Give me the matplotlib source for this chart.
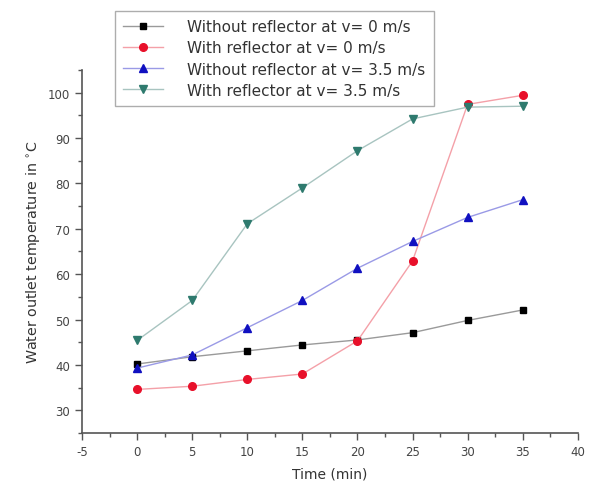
import matplotlib
matplotlib.use("Agg")
import matplotlib.pyplot as plt
from matplotlib.ticker import MultipleLocator

plt.rcParams["axes.unicode_minus"] = False

time_min = [0, 5, 10, 15, 20, 25, 30, 35]
without_v0 = [40.2, 41.8, 43.1, 44.4, 45.5, 47.1, 49.8, 52.1]
with_v0 = [34.6, 35.3, 36.8, 38.0, 45.3, 62.9, 97.4, 99.4]
without_v35 = [39.3, 42.2, 48.2, 54.2, 61.3, 67.2, 72.5, 76.4]
with_v35 = [45.4, 54.2, 71.1, 79.0, 87.2, 94.2, 96.8, 97.0]

labels = ["Without reflector at v= 0 m/s", "With reflector at v= 0 m/s",
          "Without reflector at v= 3.5 m/s", "With reflector at v= 3.5 m/s"]

fig = plt.figure(figsize=(5.95, 4.89), dpi=100)
ax = fig.add_axes([0.138, 0.1125, 0.833, 0.7425])

series = [
    (without_v0, "s", "#000000", "#9a9a9a", 5),
    (with_v0, "o", "#e8102a", "#f4a0a8", 5.5),
    (without_v35, "^", "#1010c0", "#9a9ae6", 6),
    (with_v35, "v", "#2e7a6e", "#a8c4c0", 6),
]
for (vals, m, mc, lc, ms), lab in zip(series, labels):
    ax.plot(time_min, vals, color=lc, lw=1.0, marker=m, markersize=ms,
            markerfacecolor=mc, markeredgecolor=mc, label=lab)

ax.set_xlim(-5, 40)
ax.set_ylim(25, 105)
ax.xaxis.set_major_locator(MultipleLocator(5))
ax.xaxis.set_minor_locator(MultipleLocator(2.5))
ax.yaxis.set_major_locator(MultipleLocator(10))
ax.yaxis.set_minor_locator(MultipleLocator(5))
ax.set_yticks([30, 40, 50, 60, 70, 80, 90, 100])
for s in ["top", "right"]:
    ax.spines[s].set_visible(False)
for s in ["left", "bottom"]:
    ax.spines[s].set_color("#555555")
    ax.spines[s].set_linewidth(1.2)
ax.tick_params(which="major", direction="out", length=5, width=1, colors="#555555",
               labelsize=8.5, labelcolor="#444444")
ax.tick_params(which="minor", direction="out", length=3, width=1, colors="#555555")

ax.set_xlabel("Time (min)", fontsize=10, color="#333333", labelpad=6)
ax.set_ylabel("Water outlet temperature in $^{\\circ}$C", fontsize=10.3, color="#333333")

leg = ax.legend(loc="upper left", bbox_to_anchor=(0.066, 1.1625), fontsize=11,
                frameon=True, fancybox=False, handlelength=2.6, borderpad=0.55,
                labelspacing=0.4, handletextpad=1.6, borderaxespad=0)
for t in leg.get_texts():
    t.set_color("#333333")
leg.get_frame().set_edgecolor("#999999")
leg.get_frame().set_linewidth(1.0)

fig.savefig("out.png", dpi=100)
